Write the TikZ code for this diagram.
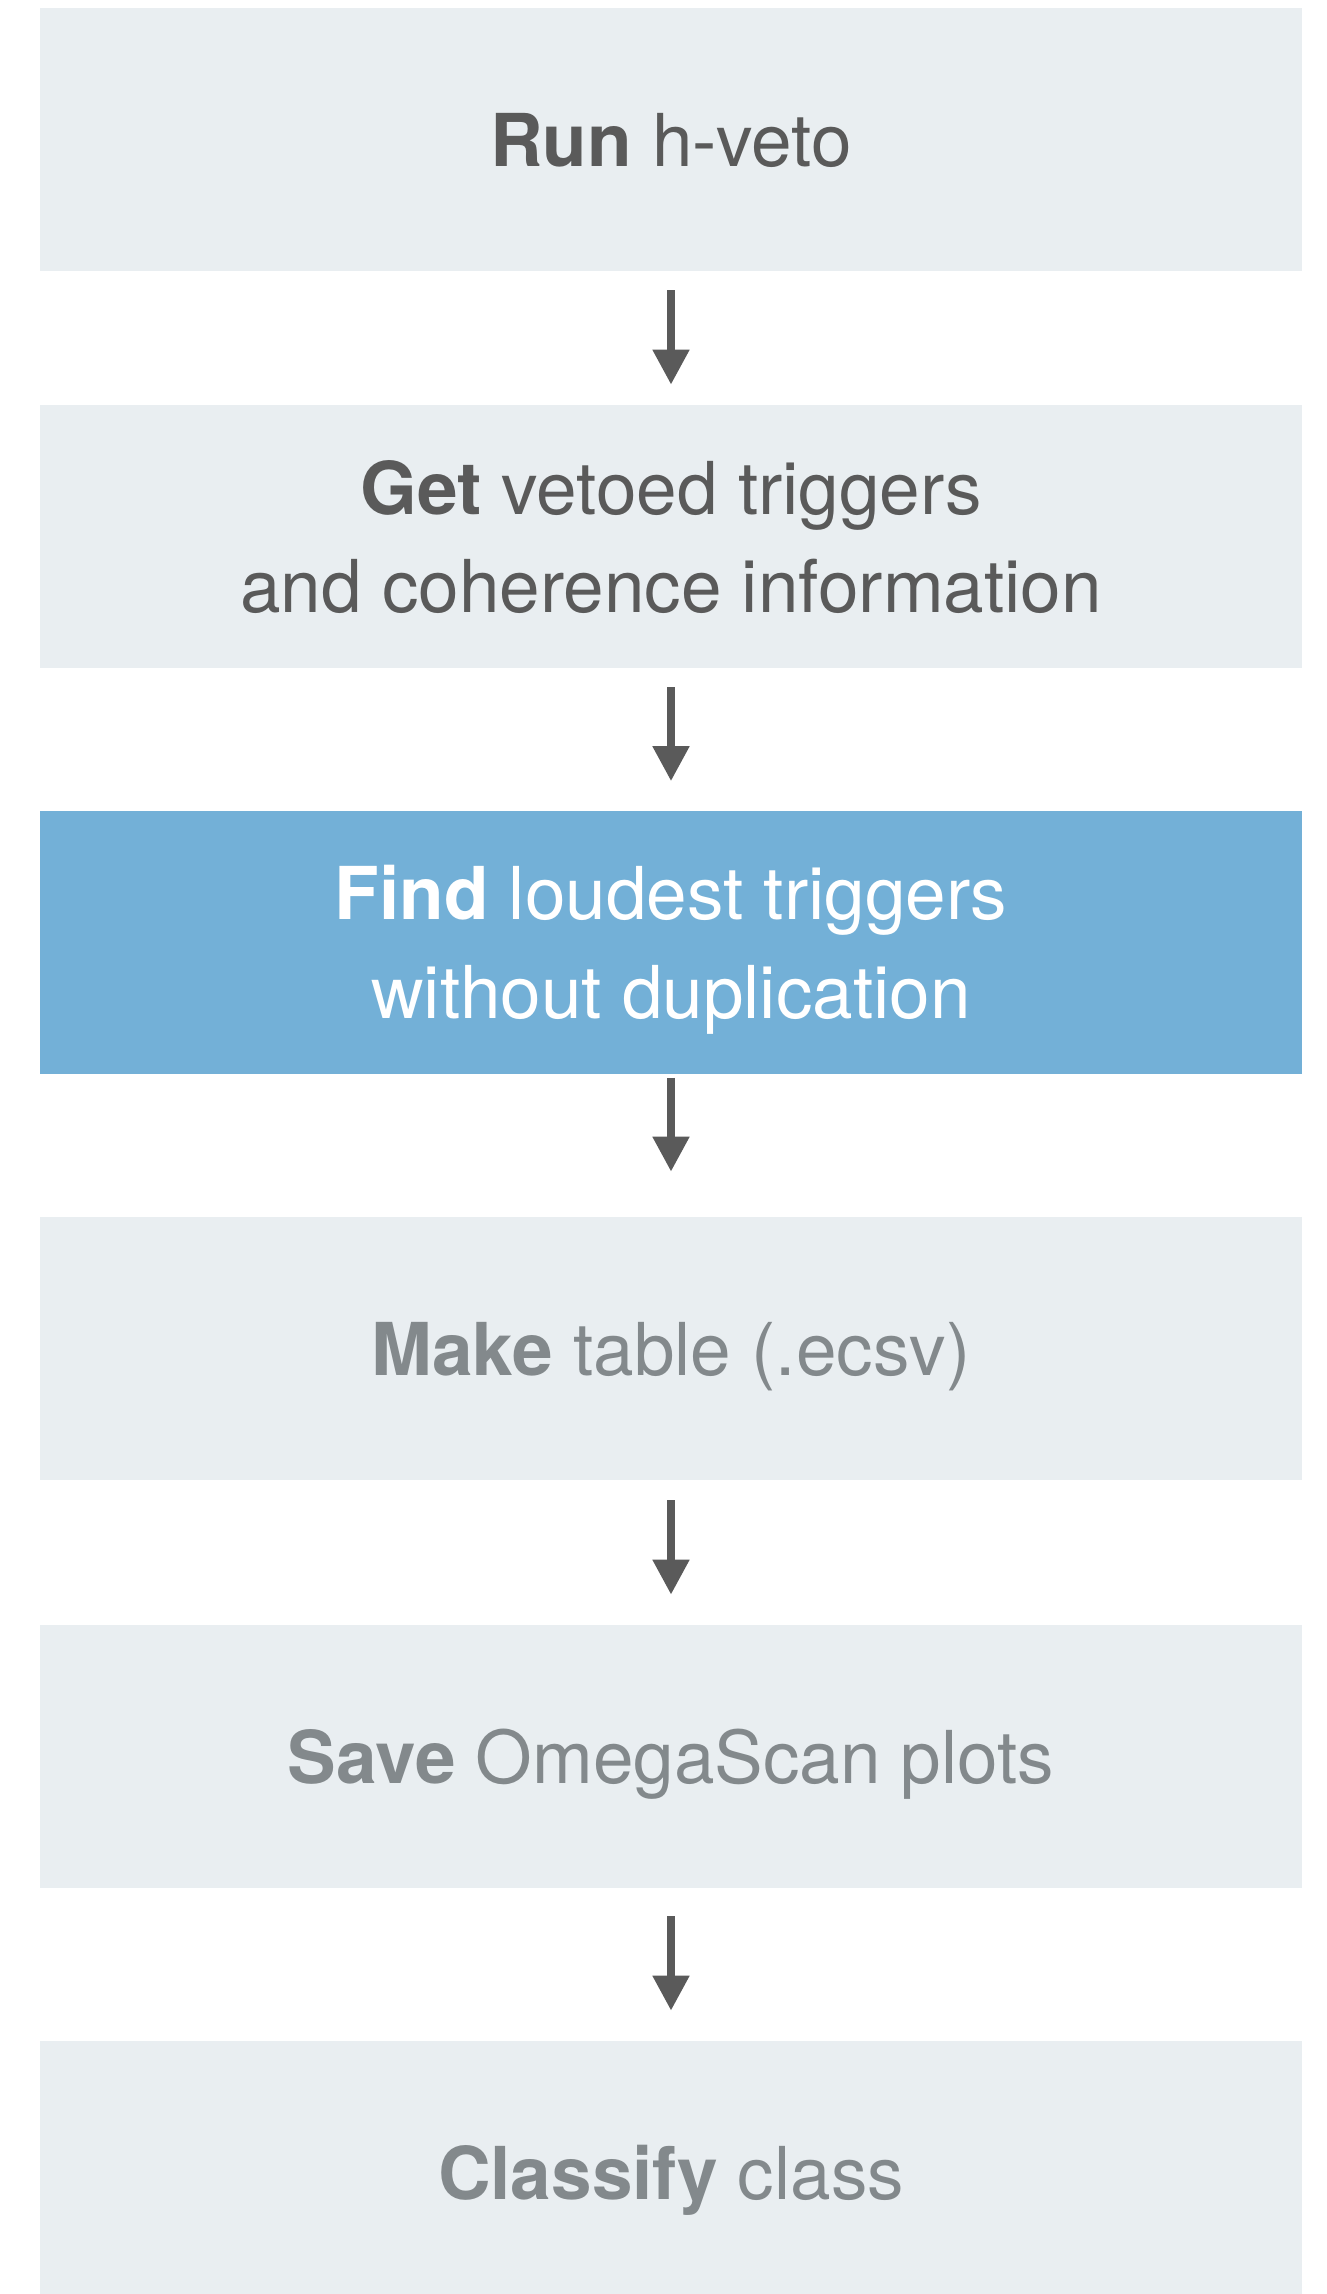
\documentclass[tikz,border=0pt]{standalone}
\usepackage{fontspec}
\setmainfont{TeX Gyre Heros}
\usetikzlibrary{arrows.meta}

\definecolor{boxgrey}{HTML}{E9EEF1}
\definecolor{boxblue}{HTML}{73B0D7}
\definecolor{darktext}{HTML}{5A5A5A}
\definecolor{fadetext}{HTML}{83898C}
\definecolor{arrowgrey}{HTML}{5A5A5A}

\newdimen\pu
\pu=0.02cm

\begin{document}
\begin{tikzpicture}[x=0.02cm,y=-0.02cm,
   task/.style={fill=boxgrey, inner sep=0pt, align=center,
      minimum width=1262\pu, minimum height=263\pu, text depth=0pt,
      font=\fontsize{41.5}{56}\selectfont},
   taskhi/.style={task, fill=boxblue, text=white},
   flow/.style={draw=arrowgrey, line width=0.16cm,
      -{Triangle[width=0.7cm,length=0.7cm]}}]

% Page size (px of the reference)
\useasboundingbox (0,0) rectangle (1327,2294);
\fill[white] (0,0) rectangle (1327,2294);

% Horizontal centre of the column
\def\cx{671}

% Steps
\node[task, text=darktext] (run) at (\cx,139.5) {\textbf{Run} h-veto};
\node[task, text=darktext] (get) at (\cx,536.5)
   {\textbf{Get} vetoed triggers\\and coherence information};
\node[taskhi] (find) at (\cx,942)
   {\textbf{Find} loudest triggers\\without duplication};
\node[task, text=fadetext] (make) at (\cx,1348.5) {\textbf{Make} table (.ecsv)};
\node[task, text=fadetext] (save) at (\cx,1756.5) {\textbf{Save} OmegaScan plots};
\node[task, text=fadetext] (classify) at (\cx,2172.5) {\textbf{Classify} class};

% Arrows between steps (gap above / below each arrow)
\foreach \a/\b/\s/\e in {run/get/19/20, get/find/19/29, find/make/4/45,
                         make/save/20/30, save/classify/28/30}{
   \draw[flow, shorten <=\s\pu, shorten >=\e\pu] (\a) -- (\b);
}

\end{tikzpicture}
\end{document}
